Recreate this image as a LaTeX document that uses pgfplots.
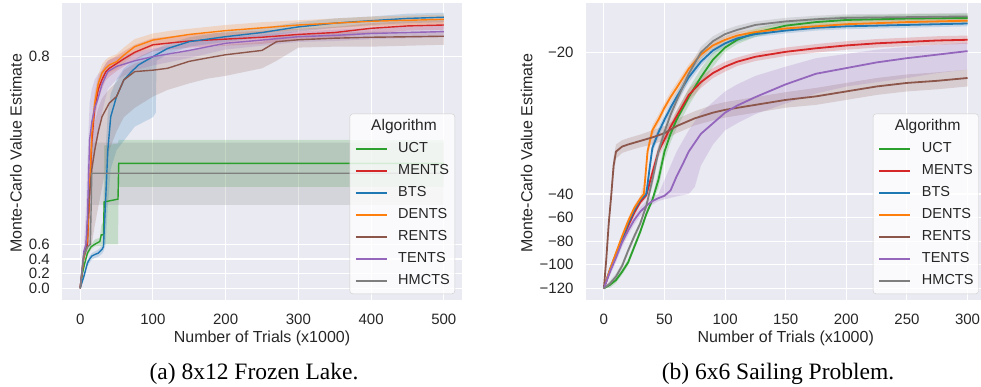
\documentclass[border=0pt]{standalone}
\usepackage{pgfplots}
\pgfplotsset{compat=1.18}
\usepackage{fontspec}
\setmainfont{Liberation Sans}
\newfontfamily\capfont{Liberation Serif}
\definecolor{bg}{HTML}{EAEAF2}
\definecolor{tx}{HTML}{262626}
\definecolor{cB}{HTML}{1F77B4}
\definecolor{cO}{HTML}{FF7F0E}
\definecolor{cG}{HTML}{2CA02C}
\definecolor{cR}{HTML}{D62728}
\definecolor{cP}{HTML}{9467BD}
\definecolor{cN}{HTML}{8C564B}
\definecolor{cY}{HTML}{7F7F7F}
\pgfplotsset{
  sb/.style={
    scale only axis, width=400pt, height=297pt, anchor=south west,
    axis background/.style={fill=bg},
    axis line style={draw=none},
    major tick length=0pt,
    grid=major,
    major grid style={white, line width=1.1pt},
    no marks,
    tick label style={font=\fontsize{15}{18}\selectfont, text=tx},
    yticklabel style={anchor=east, inner xsep=0pt, xshift=-12pt},
    xticklabel style={anchor=base, yshift=-25pt},
    label style={font=\fontsize{16}{19}\selectfont, text=tx},
    xlabel style={at={(axis description cs:0.5,-0.1438)}, anchor=base},
    /pgf/number format/assume math mode=true,
    legend cell align=left,
    legend image code/.code={\draw[##1] (0pt,0pt) -- (31pt,0pt);},
    legend style={at={(0.9825,0.02)}, anchor=south east, fill=white, fill opacity=0.8, text opacity=1,
      draw=black!20, rounded corners=3pt, font=\fontsize{14.5}{17}\selectfont, text=tx,
      nodes={inner sep=0pt, text height=11pt, text depth=3pt},
      row sep=8pt, column sep=11pt, inner xsep=5pt, inner ysep=6pt},
  },
  band/.style={draw=none, fill=#1, fill opacity=0.2, forget plot},
  lnA/.style={#1, line width=1.4pt},
  lnB/.style={#1, line width=1.8pt},
}
\begin{document}
\begin{tikzpicture}
% ---------------- (a) Frozen Lake ----------------
\begin{axis}[sb, at={(62pt,87pt)},
  xmin=-25, xmax=525, ymin=-0.16, ymax=0.8564,
  y coord trafo/.code={\pgfmathparse{min(#1,0.6)+12.84*max(#1-0.6,0)}},
  y coord inv trafo/.code={\pgfmathparse{min(#1,0.6)+max(#1-0.6,0)/12.84}},
  xtick={0,100,200,300,400,500}, xticklabels={0,100,200,300,400,500},
  ytick={0,0.2,0.4,0.6,0.8}, yticklabels={0.0,0.2,0.4,0.6,0.8},
  xlabel={Number of Trials (x1000)}, ylabel={Monte-Carlo Value Estimate},
  ylabel style={at={(axis description cs:-0.115,0.494)}, anchor=center},
]
% bands
\addplot[band=cG] coordinates {(0,0)(5,0.33)(10,0.52)(15,0.59)(20,0.605)(27,0.607)(29,0.62)(32,0.625)(33,0.705)(52,0.707)(53,0.711)(500,0.711)
 (500,0.661)(53,0.661)(52,0.6)(33,0.6)(32,0.57)(29,0.57)(27,0.58)(20,0.57)(15,0.53)(10,0.44)(5,0.26)(0,0)} -- cycle;
\addplot[band=cR] coordinates {(0,0)(5,0.47)(10,0.61)(13,0.673)(16,0.725)(20,0.757)(25,0.776)(30,0.785)(35,0.792)(40,0.796)(50,0.800)(60,0.805)(75,0.812)(100,0.819)(125,0.821)(150,0.823)(200,0.825)(250,0.827)(300,0.829)(350,0.831)(400,0.835)(450,0.837)(500,0.838)
 (500,0.828)(450,0.827)(400,0.824)(350,0.819)(300,0.817)(250,0.813)(200,0.811)(150,0.809)(125,0.807)(100,0.805)(75,0.796)(60,0.789)(50,0.784)(40,0.778)(35,0.774)(30,0.765)(25,0.754)(20,0.733)(16,0.695)(13,0.637)(10,0.57)(5,0.37)(0,0)} -- cycle;
\addplot[band=cB] coordinates {(0,0)(5,0.2)(10,0.39)(13,0.44)(16,0.48)(20,0.50)(25,0.53)(30,0.58)(32,0.60)(35,0.70)(38,0.74)(42,0.76)(50,0.775)(60,0.787)(70,0.793)(80,0.799)(100,0.806)(120,0.813)(150,0.820)(200,0.826)(250,0.830)(300,0.836)(350,0.840)(400,0.842)(450,0.845)(500,0.846)
 (500,0.836)(450,0.835)(400,0.833)(350,0.830)(300,0.826)(250,0.820)(200,0.815)(150,0.810)(120,0.802)(105,0.795)(104,0.74)(100,0.735)(75,0.725)(50,0.70)(42,0.68)(38,0.64)(35,0.60)(32,0.50)(30,0.47)(25,0.43)(20,0.41)(16,0.39)(13,0.35)(10,0.30)(5,0.12)(0,0)} -- cycle;
\addplot[band=cO] coordinates {(0,0)(5,0.48)(10,0.62)(13,0.68)(16,0.733)(20,0.762)(25,0.781)(30,0.791)(35,0.796)(40,0.799)(50,0.802)(60,0.809)(75,0.818)(100,0.824)(125,0.827)(150,0.829)(200,0.833)(250,0.836)(300,0.838)(350,0.840)(400,0.842)(450,0.843)(500,0.844)
 (500,0.834)(450,0.833)(400,0.832)(350,0.830)(300,0.828)(250,0.824)(200,0.821)(150,0.817)(125,0.814)(100,0.810)(75,0.802)(60,0.793)(50,0.786)(40,0.782)(35,0.778)(30,0.773)(25,0.761)(20,0.738)(16,0.70)(13,0.64)(10,0.58)(5,0.38)(0,0)} -- cycle;
\addplot[band=cN] coordinates {(0,0)(5,0.52)(8,0.6)(12,0.68)(16,0.71)(20,0.73)(25,0.745)(30,0.755)(40,0.765)(50,0.772)(60,0.785)(75,0.792)(100,0.799)(120,0.801)(150,0.806)(175,0.809)(200,0.812)(250,0.815)(270,0.821)(300,0.823)(350,0.825)(400,0.826)(450,0.826)(500,0.827)
 (500,0.812)(450,0.811)(400,0.810)(350,0.810)(300,0.809)(270,0.795)(250,0.787)(200,0.779)(175,0.776)(150,0.771)(120,0.764)(100,0.757)(75,0.745)(60,0.735)(50,0.72)(40,0.70)(30,0.66)(25,0.64)(20,0.62)(16,0.60)(12,0.57)(8,0.45)(5,0.38)(0,0)} -- cycle;
\addplot[band=cP] coordinates {(0,0)(5,0.56)(8,0.64)(10,0.69)(13,0.75)(16,0.765)(20,0.775)(24,0.78)(30,0.785)(38,0.795)(50,0.799)(75,0.804)(100,0.808)(150,0.814)(200,0.820)(250,0.823)(300,0.826)(350,0.828)(400,0.830)(450,0.831)(500,0.832)
 (500,0.820)(450,0.819)(400,0.818)(350,0.816)(300,0.815)(250,0.811)(200,0.807)(150,0.798)(100,0.790)(75,0.785)(50,0.775)(38,0.765)(30,0.74)(24,0.715)(20,0.695)(16,0.67)(13,0.64)(10,0.59)(8,0.53)(5,0.42)(0,0)} -- cycle;
\addplot[band=cY] coordinates {(0,0)(5,0.5)(10,0.6)(14,0.63)(16,0.708)(500,0.708)
 (500,0.642)(16,0.642)(14,0.58)(10,0.52)(5,0.40)(0,0)} -- cycle;
% legend title
\addlegendimage{empty legend}
\addlegendentry{\fontsize{15.5}{18}\selectfont\hspace*{-27pt}Algorithm}
% lines
\addplot[lnA=cG] coordinates {(0,0)(3,0.2)(6,0.33)(10,0.48)(15,0.567)(20,0.6)(27,0.603)(29,0.61)(32,0.61)(33,0.645)(52,0.648)(53,0.686)(500,0.686)};
\addlegendentry{UCT}
\addplot[lnA=cR] coordinates {(0,0)(5,0.42)(10,0.59)(13,0.655)(16,0.71)(20,0.745)(25,0.765)(30,0.775)(35,0.783)(40,0.787)(50,0.792)(60,0.797)(75,0.804)(100,0.812)(125,0.814)(150,0.816)(200,0.818)(250,0.820)(300,0.823)(350,0.825)(400,0.8295)(450,0.832)(500,0.833)};
\addlegendentry{MENTS}
\addplot[lnA=cB] coordinates {(0,0)(5,0.16)(10,0.345)(13,0.40)(16,0.44)(20,0.46)(25,0.48)(30,0.53)(32,0.567)(35,0.647)(38,0.70)(42,0.7356)(50,0.757)(60,0.7746)(70,0.783)(80,0.7905)(100,0.7994)(120,0.808)(150,0.8153)(200,0.8206)(250,0.825)(300,0.831)(350,0.835)(400,0.8376)(450,0.840)(500,0.8413)};
\addlegendentry{BTS}
\addplot[lnA=cO] coordinates {(0,0)(5,0.43)(10,0.605)(13,0.661)(16,0.718)(20,0.75)(25,0.771)(30,0.782)(35,0.787)(40,0.7905)(50,0.794)(60,0.801)(75,0.810)(100,0.817)(125,0.820)(150,0.823)(200,0.827)(250,0.830)(300,0.833)(350,0.835)(400,0.837)(450,0.838)(500,0.839)};
\addlegendentry{DENTS}
\addplot[lnA=cN] coordinates {(0,0)(5,0.46)(8,0.55)(12,0.647)(16,0.68)(20,0.70)(25,0.72)(30,0.7356)(40,0.75)(50,0.757)(60,0.7746)(75,0.7835)(100,0.785)(120,0.787)(150,0.7944)(175,0.798)(200,0.8014)(250,0.806)(270,0.8153)(300,0.8173)(350,0.819)(400,0.820)(450,0.8205)(500,0.8211)};
\addlegendentry{RENTS}
\addplot[lnA=cP] coordinates {(0,0)(5,0.5)(8,0.6)(10,0.63)(13,0.711)(16,0.73)(20,0.745)(24,0.7535)(30,0.77)(38,0.7835)(50,0.789)(75,0.795)(100,0.7994)(150,0.806)(200,0.8136)(250,0.817)(300,0.8206)(350,0.822)(400,0.824)(450,0.825)(500,0.826)};
\addlegendentry{TENTS}
\addplot[lnA=cY] coordinates {(0,0)(5,0.45)(10,0.56)(14,0.6)(16,0.6755)(500,0.6755)};
\addlegendentry{HMCTS}
\end{axis}
% ---------------- (b) Sailing ----------------
\begin{axis}[sb, at={(585.7pt,87pt)},
  xmin=-15, xmax=315, ymin=-129.9, ymax=-13.0,
  y coord trafo/.code={\pgfmathparse{min(#1,-40)+6*max(#1+40,0)}},
  y coord inv trafo/.code={\pgfmathparse{min(#1,-40)+max(#1+40,0)/6}},
  xtick={0,50,100,150,200,250,300}, xticklabels={0,50,100,150,200,250,300},
  ytick={-120,-100,-80,-60,-40,-20}, yticklabels={−120,−100,−80,−60,−40,−20},
  xlabel={Number of Trials (x1000)}, ylabel={Monte-Carlo Value Estimate},
  ylabel style={at={(axis description cs:-0.1475,0.494)}, anchor=center},
]
\addplot[band=cG] coordinates {(0,-120)(5,-114.5)(10,-110.5)(15,-103.5)(20,-95.5)(25,-82.5)(30,-69.5)(35,-54.5)(40,-43)(45,-36.8)(50,-32.8)(55,-30.3)(60,-28.3)(70,-25.1)(80,-22.3)(90,-20.0)(100,-18.7)(110,-17.6)(125,-16.6)(150,-15.6)(175,-15.1)(200,-14.8)(250,-14.6)(300,-14.5)
 (300,-15.7)(250,-15.8)(200,-16.0)(175,-16.3)(150,-16.8)(125,-17.8)(110,-18.8)(100,-19.9)(90,-22.0)(80,-24.7)(70,-27.5)(60,-30.7)(55,-32.7)(50,-35.2)(45,-39.2)(40,-47)(35,-59.5)(30,-74.5)(25,-87.5)(20,-100.5)(15,-108.5)(10,-115.5)(5,-119.5)(0,-120)} -- cycle;
\addplot[band=cR] coordinates {(0,-120)(5,-102.5)(10,-89.5)(15,-76.5)(20,-64.5)(25,-53.5)(30,-44.5)(35,-39.6)(40,-36.2)(45,-33.2)(50,-31.5)(55,-29.7)(60,-28.2)(70,-25.2)(80,-23.4)(90,-22.2)(100,-21.3)(110,-20.7)(125,-20.0)(150,-19.3)(175,-18.8)(200,-18.4)(225,-18.1)(250,-17.9)(275,-17.7)(300,-17.6)
 (300,-18.8)(275,-18.9)(250,-19.1)(225,-19.3)(200,-19.6)(175,-20.0)(150,-20.5)(125,-21.2)(110,-21.9)(100,-22.7)(90,-23.6)(80,-25.0)(70,-26.8)(60,-29.8)(55,-31.3)(50,-33.1)(45,-34.8)(40,-37.8)(35,-43.5)(30,-49.5)(25,-58.5)(20,-69.5)(15,-81.5)(10,-94.5)(5,-107.5)(0,-120)} -- cycle;
\addplot[band=cB] coordinates {(0,-120)(5,-101.5)(10,-88.5)(15,-75.5)(20,-62.5)(25,-51.5)(30,-42.5)(35,-39.2)(38,-35.2)(40,-32.8)(45,-30.6)(50,-28.8)(55,-27.1)(60,-25.6)(70,-22.8)(80,-20.7)(90,-19.2)(100,-18.2)(110,-17.5)(125,-17.0)(150,-16.5)(175,-16.1)(200,-15.9)(250,-15.7)(300,-15.5)
 (300,-16.3)(250,-16.5)(200,-16.7)(175,-16.9)(150,-17.3)(125,-17.8)(110,-18.5)(100,-19.2)(90,-20.2)(80,-21.9)(70,-24.2)(60,-27.0)(55,-28.5)(50,-30.2)(45,-32.0)(40,-34.2)(38,-36.8)(35,-41)(30,-47.5)(25,-56.5)(20,-67.5)(15,-80.5)(10,-93.5)(5,-106.5)(0,-120)} -- cycle;
\addplot[band=cO] coordinates {(0,-120)(5,-101.5)(10,-87.5)(15,-73.5)(20,-60.5)(25,-49.5)(30,-41.5)(33,-38.5)(36,-33.2)(40,-30.3)(45,-28.8)(50,-27.1)(55,-25.6)(60,-24.3)(70,-21.7)(80,-19.7)(90,-18.5)(100,-17.7)(110,-17.1)(125,-16.7)(150,-16.2)(175,-15.9)(200,-15.6)(250,-15.3)(300,-15.1)
 (300,-15.9)(250,-16.1)(200,-16.4)(175,-16.7)(150,-17.0)(125,-17.5)(110,-18.1)(100,-18.7)(90,-19.5)(80,-20.9)(70,-22.9)(60,-25.7)(55,-27.0)(50,-28.5)(45,-30.2)(40,-31.7)(36,-34.8)(33,-41.5)(30,-46.5)(25,-54.5)(20,-65.5)(15,-78.5)(10,-92.5)(5,-106.5)(0,-120)} -- cycle;
\addplot[band=cN] coordinates {(0,-120)(2,-92)(4,-60)(6,-39.5)(8,-34.8)(10,-33.0)(15,-32.4)(20,-32.1)(30,-31.6)(40,-31.0)(50,-30.4)(60,-29.4)(75,-28.3)(90,-27.4)(100,-27.0)(125,-26.3)(150,-25.6)(175,-25.0)(200,-24.3)(225,-23.6)(250,-23.1)(275,-22.8)(300,-22.4)
 (300,-24.8)(275,-25.2)(250,-25.5)(225,-26.0)(200,-26.7)(175,-27.4)(150,-27.8)(125,-28.5)(100,-29.2)(90,-29.6)(75,-30.3)(60,-31.4)(50,-32.4)(40,-33.0)(30,-33.4)(20,-33.9)(15,-34.2)(10,-35.0)(8,-37.5)(6,-46)(4,-70)(2,-98)(0,-120)} -- cycle;
\addplot[band=cP] coordinates {(0,-120)(5,-103)(10,-90)(15,-77)(20,-67)(25,-58)(30,-51)(35,-46)(40,-42)(45,-40)(50,-38)(55,-36)(60,-34)(65,-32.5)(70,-31)(80,-28.5)(90,-27)(100,-25.5)(110,-24.5)(125,-23.3)(150,-22.0)(175,-20.8)(200,-20.2)(225,-19.6)(250,-19.2)(275,-18.9)(300,-18.6)
 (300,-22.4)(275,-22.9)(250,-23.6)(225,-24.2)(200,-24.8)(175,-25.8)(150,-27.2)(125,-28.7)(110,-30.0)(100,-31.0)(90,-33.0)(80,-36)(75,-39)(70,-40)(60,-42)(50,-44.5)(45,-46)(40,-49)(35,-54)(30,-59)(25,-66)(20,-75)(15,-85)(10,-98)(5,-109)(0,-120)} -- cycle;
\addplot[band=cY] coordinates {(0,-120)(5,-113.5)(10,-107.5)(15,-98.5)(20,-85.5)(25,-73.5)(30,-62.5)(35,-47.5)(40,-37)(45,-33.2)(50,-30.4)(55,-28.0)(60,-26.0)(70,-22.2)(80,-19.2)(90,-17.7)(100,-16.8)(110,-16.2)(125,-15.6)(150,-15.1)(175,-14.8)(200,-14.6)(250,-14.5)(300,-14.4)
 (300,-15.4)(250,-15.5)(200,-15.6)(175,-15.8)(150,-16.1)(125,-16.6)(110,-17.4)(100,-18.0)(90,-19.1)(80,-20.8)(70,-23.8)(60,-27.6)(55,-29.6)(50,-32.0)(45,-34.8)(40,-39)(35,-52.5)(30,-67.5)(25,-78.5)(20,-90.5)(15,-103.5)(10,-112.5)(5,-118.5)(0,-120)} -- cycle;
\addlegendimage{empty legend}
\addlegendentry{\fontsize{15.5}{18}\selectfont\hspace*{-27pt}Algorithm}
\addplot[lnB=cG] coordinates {(0,-120)(5,-117)(10,-113)(15,-106)(20,-98)(25,-85)(30,-72)(35,-57)(40,-45)(45,-38)(50,-34)(55,-31.5)(60,-29.5)(70,-26.3)(80,-23.5)(90,-21.0)(100,-19.3)(110,-18.2)(125,-17.2)(150,-16.2)(175,-15.7)(200,-15.4)(250,-15.2)(300,-15.1)};
\addlegendentry{UCT}
\addplot[lnB=cR] coordinates {(0,-120)(5,-105)(10,-92)(15,-79)(20,-67)(25,-56)(30,-47)(35,-41)(40,-37)(45,-34)(50,-32.3)(55,-30.5)(60,-29.0)(70,-26.0)(80,-24.2)(90,-22.9)(100,-22.0)(110,-21.3)(125,-20.6)(150,-19.9)(175,-19.4)(200,-19.0)(225,-18.7)(250,-18.5)(275,-18.3)(300,-18.2)};
\addlegendentry{MENTS}
\addplot[lnB=cB] coordinates {(0,-120)(5,-104)(10,-91)(15,-78)(20,-65)(25,-54)(30,-45)(35,-40)(38,-36)(40,-33.5)(45,-31.3)(50,-29.5)(55,-27.8)(60,-26.3)(70,-23.5)(80,-21.3)(90,-19.7)(100,-18.7)(110,-18.0)(125,-17.4)(150,-16.9)(175,-16.5)(200,-16.3)(250,-16.1)(300,-15.9)};
\addlegendentry{BTS}
\addplot[lnB=cO] coordinates {(0,-120)(5,-104)(10,-90)(15,-76)(20,-63)(25,-52)(30,-44)(33,-40)(36,-34)(40,-31)(45,-29.5)(50,-27.8)(55,-26.3)(60,-25.0)(70,-22.3)(80,-20.3)(90,-19.0)(100,-18.2)(110,-17.6)(125,-17.1)(150,-16.6)(175,-16.3)(200,-16.0)(250,-15.7)(300,-15.5)};
\addlegendentry{DENTS}
\addplot[lnB=cN] coordinates {(0,-120)(2,-95)(4,-65)(6,-42)(8,-36)(10,-34)(15,-33.3)(20,-33.0)(30,-32.5)(40,-32.0)(50,-31.4)(60,-30.4)(75,-29.3)(90,-28.5)(100,-28.1)(125,-27.4)(150,-26.7)(175,-26.2)(200,-25.5)(225,-24.8)(250,-24.3)(275,-24.0)(300,-23.6)};
\addlegendentry{RENTS}
\addplot[lnB=cP] coordinates {(0,-120)(5,-106)(10,-94)(15,-81)(20,-71)(25,-62)(30,-55)(35,-50)(40,-46)(45,-43.5)(50,-41.5)(55,-39.5)(60,-37.5)(65,-35.8)(70,-34.0)(80,-31.5)(90,-30.0)(100,-28.5)(110,-27.5)(125,-26.3)(150,-24.5)(175,-23.0)(200,-22.2)(225,-21.4)(250,-20.8)(275,-20.3)(300,-19.8)};
\addlegendentry{TENTS}
\addplot[lnB=cY] coordinates {(0,-120)(5,-116)(10,-110)(15,-101)(20,-88)(25,-76)(30,-65)(35,-50)(40,-38)(45,-34)(50,-31.2)(55,-28.8)(60,-26.8)(70,-23.0)(80,-20.0)(90,-18.4)(100,-17.4)(110,-16.8)(125,-16.1)(150,-15.6)(175,-15.3)(200,-15.1)(250,-15.0)(300,-14.9)};
\addlegendentry{HMCTS}
\end{axis}
% captions
\node[font=\capfont\fontsize{23.5}{27}\selectfont, anchor=base] at (254pt,7.7pt) {(a) 8x12 Frozen Lake.};
\node[font=\capfont\fontsize{23.5}{27}\selectfont, anchor=base] at (778pt,7.7pt) {(b) 6x6 Sailing Problem.};
\pgfresetboundingbox
\useasboundingbox (0,0) rectangle (981pt,387pt);
\end{tikzpicture}
\end{document}
